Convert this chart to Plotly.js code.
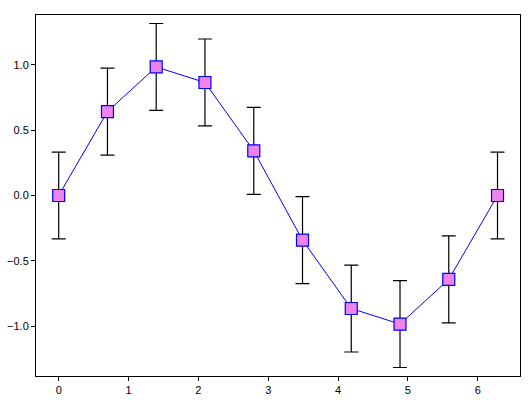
<!DOCTYPE html>
<html><head><meta charset="utf-8">
<script src="https://cdn.plot.ly/plotly-3.0.1.min.js"></script>
<style>html,body{margin:0;padding:0;background:#fff}</style>
</head><body>
<div id="chart" style="width:528px;height:400px"></div>
<script>
const xValues = [0, 0.698, 1.396, 2.094, 2.793, 3.491, 4.189, 4.887, 5.585, 6.283];
const yValues = [0, 0.643, 0.985, 0.866, 0.342, -0.342, -0.866, -0.985, -0.643, 0];
const yErrors = [0.333, 0.333, 0.333, 0.333, 0.333, 0.333, 0.333, 0.333, 0.333, 0.333];
const xTicks = [0, 1, 2, 3, 4, 5, 6];
const yTicks = [-1.0, -0.5, 0.0, 0.5, 1.0];

const trace = {
  x: xValues, y: yValues, type: 'scatter', mode: 'lines+markers',
  line: {color: '#0000ff', width: 1},
  marker: {symbol: 'square', size: 12, color: '#ee82ee', line: {color: '#0000ff', width: 1.2}},
  error_y: {type: 'data', array: yErrors, visible: true, color: '#000000', thickness: 1.2, width: 7},
  showlegend: false
};
const axisCommon = {
  showgrid: false, zeroline: false, showline: true, mirror: true,
  linecolor: '#000', linewidth: 1, ticks: 'outside', ticklen: 4, tickwidth: 1, tickcolor: '#000',
  tickfont: {family: 'Liberation Sans, Arial, sans-serif', size: 11, color: '#000'}
};
const layout = {
  width: 528, height: 400,
  margin: {l: 36, r: 8, t: 15, b: 24},
  paper_bgcolor: '#fff', plot_bgcolor: '#fff',
  xaxis: Object.assign({}, axisCommon, {range: [-0.325, 6.605], tickvals: xTicks, ticktext: xTicks.map(String)}),
  yaxis: Object.assign({}, axisCommon, {range: [-1.383, 1.383], tickvals: yTicks, ticktext: yTicks.map(v => (v < 0 ? '\u2212' : '') + Math.abs(v).toFixed(1))})
};
Plotly.newPlot('chart', [trace], layout, {displayModeBar: false, staticPlot: true});
</script>
</body></html>
